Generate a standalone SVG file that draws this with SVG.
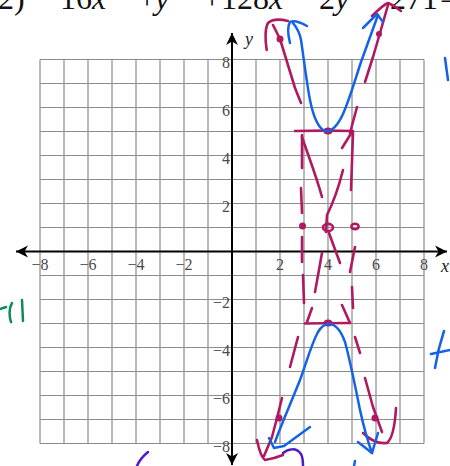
<svg xmlns="http://www.w3.org/2000/svg" width="450" height="466" viewBox="0 0 450 466">
<style>
.grid{stroke:#8c8c8c;stroke-width:1.2;fill:none}
.axis{stroke:#000;stroke-width:2;fill:none}
.num{font-family:"Liberation Serif","Times New Roman",serif;font-size:16px;fill:#4a4a4a}
.var{font-family:"Liberation Serif","Times New Roman",serif;font-size:18px;font-style:italic;fill:#222}
.eq{font-family:"Liberation Serif","Times New Roman",serif;font-size:32px;fill:#111}
.it{font-style:italic}
.m{stroke:#b0195f;stroke-width:2.6;fill:none;stroke-linecap:round;stroke-linejoin:round}
.md{fill:#b0195f}
.b{stroke:#1462e6;stroke-width:2.5;fill:none;stroke-linecap:round;stroke-linejoin:round}
.g{stroke:#0f8a5f;stroke-width:2.5;fill:none;stroke-linecap:round}
.p{stroke:#4b1ac9;stroke-width:2.5;fill:none;stroke-linecap:round}
</style>
<defs>
<marker id="ah" viewBox="-13 -7 14 14" refX="0" refY="0" markerWidth="14" markerHeight="14" markerUnits="userSpaceOnUse" orient="auto-start-reverse">
<path d="M0,0 L-12,-6 L-8.5,0 L-12,6 Z" fill="#000"/>
</marker>
</defs>
<rect width="450" height="466" fill="#fff"/>
<g id="equation">
<text class="eq" y="9"><tspan x="-2">2)</tspan><tspan x="60">16</tspan><tspan class="it">x</tspan><tspan x="138">+</tspan><tspan x="155" class="it">y</tspan><tspan x="203">+</tspan><tspan x="221">128</tspan><tspan class="it">x</tspan><tspan x="292">−</tspan><tspan x="319">2</tspan><tspan class="it">y</tspan><tspan x="362">−</tspan><tspan x="390">271</tspan><tspan x="440">=</tspan></text>
</g>
<g id="grid">
<path class="grid" d="M40,59.5V443.5M64,59.5V443.5M88,59.5V443.5M112,59.5V443.5M136,59.5V443.5M160,59.5V443.5M184,59.5V443.5M208,59.5V443.5M256,59.5V443.5M280,59.5V443.5M304,59.5V443.5M328,59.5V443.5M352,59.5V443.5M376,59.5V443.5M400,59.5V443.5M424,59.5V443.5
M40,59.5H424M40,83.5H424M40,107.5H424M40,131.5H424M40,155.5H424M40,179.5H424M40,203.5H424M40,227.5H424M40,275.5H424M40,299.5H424M40,323.5H424M40,347.5H424M40,371.5H424M40,395.5H424M40,419.5H424M40,443.5H424"/>
</g>
<g id="axes">
<line class="axis" x1="16" y1="251.5" x2="447" y2="251.5" marker-start="url(#ah)" marker-end="url(#ah)"/>
<line class="axis" x1="232" y1="33" x2="232" y2="465" marker-start="url(#ah)" marker-end="url(#ah)"/>
<text class="var" x="245" y="45">y</text>
<text class="var" x="441" y="272">x</text>
</g>
<g id="x-labels" text-anchor="middle">
<text class="num" x="40" y="270">−8</text>
<text class="num" x="88" y="270">−6</text>
<text class="num" x="136" y="270">−4</text>
<text class="num" x="184" y="270">−2</text>
<text class="num" x="280" y="270">2</text>
<text class="num" x="328" y="270">4</text>
<text class="num" x="376" y="270">6</text>
<text class="num" x="424" y="270">8</text>
</g>
<g id="y-labels" text-anchor="end">
<text class="num" x="230" y="67.5">8</text>
<text class="num" x="230" y="115.5">6</text>
<text class="num" x="230" y="163.5">4</text>
<text class="num" x="230" y="211.5">2</text>
<text class="num" x="230" y="307.5">−2</text>
<text class="num" x="230" y="355.5">−4</text>
<text class="num" x="230" y="403.5">−6</text>
<text class="num" x="230" y="451.5">−8</text>
</g>
<g id="asymptotes-magenta">
<path class="m" d="M266.7,50 C265,40 265,28 268,23 C272,19 280,19 288,21"/>
<path class="m" d="M273,25 L280,39 C285,55 290,72 295,88 L301,103"/>
<path class="m" d="M365,82 L373,57 L380,33 L388,5"/>
<path class="m" d="M372,16 C378,10 383,5 388,3 C393,5 397,8 401,11"/>
<path class="m" d="M357,107 L350,133"/>
<path class="m" d="M295,131 C315,130.5 335,130.5 353,131"/>
<path class="m" d="M305,323.5 C320,323 335,323 350,323"/>
<path class="m" d="M302,135 L302,168 M301,188 L302,213 M302,237 L302,262 M303,275 L304,303"/>
<path class="m" d="M353,133 L351,190 M355,247 L350,272 M352,287 L353,308"/>
<path class="m" d="M302,137 C308,155 316,175 322,197 M329,233 L340,263 M342,305 L350,323"/>
<path class="m" d="M352,132 L342,148 M343,170 C338,190 333,203 327,215 L326,232 M322,253 L315,292 M312,308 L307,322"/>
<path class="m" d="M298,337 L290,367 M282,398 L277,418 L272,437 L264,456"/>
<path class="m" d="M257,440 C259,450 261,457 265,460 C272,459 278,457 283,455"/>
<path class="m" d="M355,337 L360,353 M365,378 L373,407 L382,432"/>
<path class="m" d="M363,433 C370,440 378,444 387,443 C393,438 395,425 396,408"/>
<circle class="md" cx="280" cy="39" r="3.5"/>
<circle class="md" cx="379" cy="34" r="3"/>
<circle class="md" cx="279" cy="418" r="3.5"/>
<circle class="md" cx="375" cy="418" r="3.5"/>
<circle class="md" cx="302.5" cy="226" r="3.5"/>
<ellipse class="md" cx="328" cy="131" rx="4.5" ry="3.5"/>
<ellipse class="md" cx="328" cy="323" rx="4.5" ry="3.5"/>
<ellipse class="m" cx="328" cy="227.5" rx="5" ry="3.6" stroke-width="4.6"/>
<ellipse class="m" cx="355" cy="226.5" rx="3.6" ry="2.8" stroke-width="4.4"/>
</g>
<g id="hyperbola-blue">
<path class="b" d="M293,23 C297,28 300,33 301,40 C304,60 307,85 310,100 C313,115 318,128 325,131 C331,133 338,125 343,114 C350,98 355,80 361,62 C366,48 372,32 378,15"/>
<path class="b" d="M290,43 C288,35 287,27 290,22 C294,20 300,22 307,26"/>
<path class="b" d="M363,28 L377,14 L383,22"/>
<path class="b" d="M275,442 C280,428 290,405 300,380 C306,364 311,345 318,332 C321,327 325,324 329,324 C336,324 341,331 345,342 C350,360 355,385 360,410 C364,428 368,442 372,453"/>
<path class="b" d="M269,438 L274,448 L284,446 L310,427"/>
<path class="b" d="M358,442 L372,453 L378,433"/>
</g>
<g id="margin-notes">
<path class="g" d="M0,309 L6,307 M12,303 C9,308 9,316 11,322 M22,300 L23,321"/>
<path class="b" d="M445,58 L448,80"/>
<path class="b" d="M435,368 C437,355 440,343 444,331 M431,354 L450,350"/>
<path class="b" d="M355,461 L354,466"/>
<path class="p" d="M148,452 C143,456 139,461 137,466"/>
<path class="p" d="M283,453 C288,449 296,447 301,454 C303,458 303,463 303,466"/>
</g>
</svg>
